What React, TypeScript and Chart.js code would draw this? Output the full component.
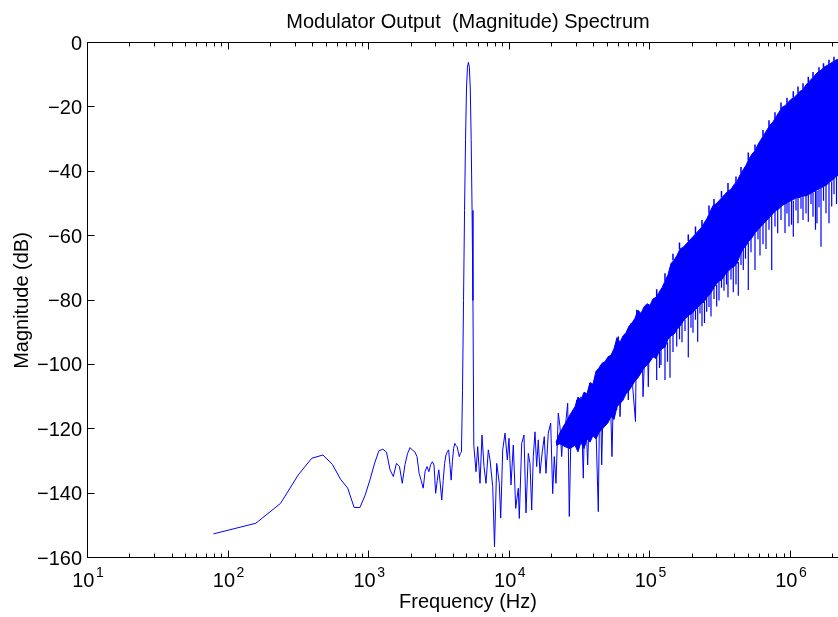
import React, { useEffect, useRef } from "react";
import { Chart, registerables } from "chart.js";

Chart.register(...registerables);

// ---------- data ----------
// FFT bins below and through the tone (Hz, dB)
const lowFreqs = [
  78.1, 156.3, 234.4, 312.5, 390.6, 468.8, 546.9, 625, 703.1, 781.3,
  859.4, 937.5, 1015.6, 1093.8, 1171.9, 1250, 1328.1, 1406.3, 1484.4, 1562.5,
  1640.6, 1718.8, 1796.9, 1875, 1953.1, 2031.3, 2109.4, 2187.5, 2265.6, 2343.8,
  2421.9, 2500, 2578.1, 2656.3, 2734.4, 2812.5, 2890.6, 2968.8, 3046.9, 3125,
  3203.1, 3281.3, 3359.4, 3437.5, 3515.6, 3593.8, 3671.9, 3750, 3828.1, 3906.3,
  3984.4, 4062.5, 4140.6, 4218.8, 4296.9, 4375, 4453.1, 4531.3, 4609.4, 4687.5,
  4765.6, 4843.8, 4921.9, 5000, 5078.1, 5156.3, 5234.4, 5312.5, 5390.6, 5468.8,
  5546.9,
];
const lowDb = [
  -152.5, -149.2, -143, -134.2, -129, -128, -130.9, -135.5, -138.3, -144.3,
  -144.3, -140.4, -135.5, -130.5, -126.7, -126.2, -127.1, -132.6, -134.7, -130.6,
  -131.5, -136.8, -131, -127.5, -125.7, -126.5, -127, -128.5, -133.7, -136,
  -138.3, -133, -131.6, -133.2, -131, -130.1, -131.1, -139.9, -136, -132.6,
  -137, -142, -136, -130.6, -128, -127, -126.4, -131, -135.8, -130,
  -126, -124.4, -125, -125.4, -127, -128.5, -127.5, -127, -108, -80,
  -52, -30, -14, -7.5, -6, -7.5, -14, -30, -52, -80,
  -125,
];

// noise floor above the tone (Hz, dB)
const highFreqs = [
  5750, 5912, 6139, 6344, 6555, 6774, 7034, 7232, 7560, 7786,
  8071, 8422, 8618, 8905, 9247, 9602, 9870, 10199, 10590, 11015,
  11494, 11684, 12152, 12618, 13038, 13538, 13920, 14313, 14692, 15107,
  15533, 15945, 16396, 17025, 17593, 18089, 18784, 19537, 20188, 20724,
  21310, 22128, 22753, 23395, 24016, 24978, 25810, 26495, 27243, 28288,
  29086, 29908, 31209, 32090, 33321, 34262, 35812, 37187, 38868, 40364,
  42607, 43810, 45046, 46016, 47548, 49372, 51017, 53322, 55098, 57589,
  59118, 60786, 63537, 65973, 67834, 69634, 72784, 74840, 78350, 79906,
  83384, 86727, 88595, 90796, 94125, 96625, 99353,
];
const highDb = [
  -133.2, -125.4, -136.8, -121.8, -131.6, -136.8, -126.4, -129.5, -137.8, -156.5,
  -130.6, -136.8, -147.6, -126.4, -121.2, -129.5, -122.8, -137.3, -124.9, -144.6,
  -138.3, -147.7, -124.4, -121.8, -146, -127.5, -130.6, -145.1, -128.5, -120.8,
  -131.6, -123.3, -133.7, -127, -122.3, -133.7, -121.2, -118.1, -140, -128.5,
  -136.8, -115, -119.2, -128.5, -119.2, -118.1, -111.9, -147.1, -121.2, -114,
  -123.3, -110.9, -119.2, -109.9, -135.2, -109.9, -131.1, -105.7, -114, -108.8,
  -145.6, -100.5, -131.1, -114, -99.5, -107.8, -97.9, -128.5, -100.5, -114,
  -91.2, -116.1, -95.4, -104.7, -90.2, -110.9, -87.1, -106.8, -117.6, -82.9,
  -102.6, -84, -109.9, -98.5, -81.4, -106.8, -83,
];

// dense shaped-noise band: upper and lower edge (Hz, dB)
const bandFreqs = [
  21310, 22753, 24978, 26804,
  29086, 30552, 32090, 33710, 35406, 37187, 39058, 41030, 43095, 45266,
  47548, 49937, 52452, 55098, 57875, 60786, 63845, 67055, 70433, 73982,
  77707, 81617, 85721, 90039, 94584, 99353, 104350, 109610, 115120, 120920,
  127000, 133400, 140120, 147170, 154590, 162370, 170550, 179140, 188160, 197630,
  207570, 218030, 229010, 240530, 252640, 265370, 278730, 292770, 307510, 323010,
  339270, 356360, 374310, 393150, 412950, 433750, 455600, 478530, 502630, 527950,
  554530, 582460, 611800, 642620, 674970, 708970, 744680, 782180, 821580, 862960,
  906430, 952070, 1000000, 1050400, 1103300, 1158900, 1217300, 1278600, 1342900, 1410600,
  1481600, 1556200, 1634600, 1716900, 1803400, 1894200, 1989600, 2089800, 2195000, 2305600,
  2421700, 2543600,
];
const bandUpperDb = [
  -124, -121, -118, -115.5,
  -113, -110, -111, -108.5, -109, -105.5, -106, -102, -101, -99.5,
  -99, -97.5, -97, -95, -91.5, -93, -91, -90, -88, -87,
  -85.5, -83, -84, -82, -81, -81.5, -79.5, -79, -77.5, -76,
  -74, -72, -68.5, -67.5, -66, -64, -63.5, -62.5, -61.5, -60.5,
  -59.5, -58.5, -57.5, -56, -54.5, -52.5, -50.5, -50, -49, -48,
  -47, -46, -45.5, -44, -43, -41, -39.5, -38, -36, -34.5,
  -33.5, -31.5, -30, -28.5, -27, -25.5, -24.5, -23, -21.5, -20,
  -19.5, -18.5, -17.5, -17, -16, -15, -14.5, -13, -12, -11,
  -10, -9, -8.5, -7.5, -7, -6.5, -5.8, -5.3, -5, -4.6,
  -4.3, -4,
];
const bandLowerDb = [
  -125, -124.5, -125.5, -126,
  -125, -127, -124, -126, -123, -124, -122, -123, -121, -120,
  -119, -118, -116, -117, -113, -112, -111, -109, -108, -106.5,
  -105, -104, -102.5, -101, -100, -99, -97.5, -98, -96, -95,
  -94.5, -92, -91, -90.5, -89, -88, -86.5, -85.5, -84.5, -84,
  -83, -82, -81, -80.5, -79, -78, -76.5, -75, -74, -73.5,
  -72, -71, -70, -69.5, -68.5, -66, -64, -63, -61.5, -60.5,
  -59, -58, -57, -56, -55, -54, -53, -52, -51.5, -50.5,
  -50, -49.5, -49, -48.5, -48, -48, -47.5, -47.5, -47, -46.5,
  -46, -45.5, -45, -44.5, -44, -43, -42.5, -41.5, -41, -40.5,
  -40, -40,
];

// narrow downward spikes below the band (Hz, from dB, to dB)
const spikeFreqs = [
  110870, 116070, 118960, 127000, 132320, 137850, 144780, 153830, 161060, 167790,
  176240, 186010, 194420, 200910, 209290, 216970, 225300, 232810, 242520, 251410,
  261070, 269760, 283380, 296130, 307510, 320380, 333770, 347720, 356360, 374310,
  388660, 406270, 421900, 440910, 457830, 474700, 496970, 519400, 554530, 582460,
  601880, 632150, 664030, 697450, 729020, 769450, 804330, 849030, 906430, 936640,
  967770, 1008300, 1038400, 1085400, 1121500, 1178100, 1217300, 1278600, 1327600, 1387600,
  1433900, 1493700, 1530900, 1581900, 1634600, 1702800, 1773900, 1863400, 1947700, 2022300,
  2107000,
];
const spikeTopDb = [
  -97, -96, -95, -94, -93, -91, -90.5, -89, -88, -86,
  -86, -84, -84, -83, -83, -82, -81, -81, -80.5, -79,
  -78, -77, -76, -75, -74, -73.5, -72, -71, -71, -70,
  -69, -69, -68, -65, -64, -63, -62, -60.5, -59, -58,
  -57, -56, -55, -54, -53, -52, -51.5, -50.5, -50, -49.5,
  -49.5, -49, -49, -48, -48, -48, -47.5, -47.5, -47, -46.5,
  -46.5, -46, -46, -45.5, -45, -44.5, -44, -43, -43, -42,
  -41.5,
];
const spikeBottomDb = [
  -104.7, -101, -100, -104.7, -99, -104, -96, -94.3, -92, -93,
  -89.5, -97.7, -88.5, -90, -86, -92.8, -84, -88, -87, -83.5,
  -82, -85, -79.5, -81.9, -80, -76, -77, -75, -79, -73.5,
  -77.4, -75, -78.5, -69, -70.5, -67, -76.7, -65, -70.5, -61,
  -66, -62.5, -64, -58, -70.5, -57, -59.1, -55, -59, -53,
  -57, -56.5, -60.2, -52, -56, -51.5, -55, -53, -55.5, -50,
  -54, -58, -56, -51, -63.3, -49, -52.9, -56, -50.8, -47,
  -50,
];

// small upward protrusions on the top edge of the band (Hz, from dB, to dB)
const capFreqs = [
  110870, 127000, 144780, 161060, 186010, 209290, 232810, 261070, 283380, 320380,
  356360, 406270, 440910, 496970, 554530, 632150, 697450, 769450, 849030, 936640,
  1038400, 1121500, 1217300, 1327600, 1433900, 1581900, 1702800, 1863400, 2022300,
];
const capBaseDb = [
  -79, -74, -67.5, -64, -61.5, -59.5, -57, -53, -50.5, -48,
  -46, -43.5, -40.5, -36.5, -33.5, -29, -26, -23.5, -20.5, -19,
  -17, -15.5, -14.5, -12.3, -10.7, -9, -7.7, -6.8, -5.6,
];
const capTipDb = [
  -76.5, -71.5, -65.5, -62, -59.5, -57, -55, -50.5, -48.5, -46,
  -43.5, -41.5, -38.5, -34, -31.5, -27, -24, -21.5, -18.5, -17,
  -15, -13.5, -12.5, -10.5, -9, -7.5, -6.3, -5.2, -4.3,
];

// axes
const xTickExponents = [1, 2, 3, 4, 5, 6];
const yTicks = [0, -20, -40, -60, -80, -100, -120, -140, -160];
const X_MIN = 10;
const X_MAX = 2543600;
const Y_MIN = -160;
const Y_MAX = 0;

const TITLE = "Modulator Output  (Magnitude) Spectrum";
const X_TITLE = "Frequency (Hz)";
const Y_TITLE = "Magnitude (dB)";

// ---------- layout ----------
const W = 870;
const H = 617;
const PLOT_LEFT = 88;
const PLOT_TOP = 43;
const PLOT_RIGHT = 848;
const PLOT_BOTTOM = 558;
const BLUE = "#0000ff";
const FONT = '"Liberation Sans", Arial, Helvetica, sans-serif';

const matlabAxes = {
  id: "matlabAxes",
  afterDatasetsDraw(chart: any) {
    const { ctx, chartArea, scales } = chart;
    const { left, right, top, bottom } = chartArea;
    const xs = scales.x;
    const ys = scales.y;
    ctx.save();
    ctx.strokeStyle = "#000";
    ctx.fillStyle = "#000";
    ctx.lineWidth = 1;

    const L = Math.round(left) - 0.5;
    const R = Math.round(right) - 0.5;
    const T = Math.round(top) - 0.5;
    const B = Math.round(bottom) - 0.5;
    ctx.beginPath();
    ctx.moveTo(L, T);
    ctx.lineTo(R, T);
    ctx.lineTo(R, B);
    ctx.lineTo(L, B);
    ctx.closePath();
    ctx.stroke();

    ctx.beginPath();
    for (let e = xTickExponents[0]; e <= xTickExponents[xTickExponents.length - 1]; e++) {
      for (let d = 1; d <= 9; d++) {
        const v = d * Math.pow(10, e);
        if (v > X_MAX) break;
        const px = Math.round(xs.getPixelForValue(v)) - 0.5;
        const len = d === 1 ? 7 : 4;
        ctx.moveTo(px, B);
        ctx.lineTo(px, B - len);
        ctx.moveTo(px, T);
        ctx.lineTo(px, T + len);
      }
    }
    for (const v of yTicks) {
      const py = Math.round(ys.getPixelForValue(v)) - 0.5;
      ctx.moveTo(L, py);
      ctx.lineTo(L + 7, py);
      ctx.moveTo(R, py);
      ctx.lineTo(R - 7, py);
    }
    ctx.stroke();

    ctx.font = `20px ${FONT}`;
    ctx.textAlign = "right";
    ctx.textBaseline = "middle";
    for (const v of yTicks) {
      const py = ys.getPixelForValue(v);
      const label = v < 0 ? "\u2212" + Math.abs(v) : String(v);
      ctx.fillText(label, left - 6, py + 1);
    }

    ctx.textBaseline = "alphabetic";
    ctx.textAlign = "left";
    for (const e of xTickExponents) {
      const px = xs.getPixelForValue(Math.pow(10, e));
      ctx.font = `20px ${FONT}`;
      const w1 = ctx.measureText("10").width;
      ctx.font = `14px ${FONT}`;
      const w2 = ctx.measureText(String(e)).width;
      const total = w1 + 1.5 + w2;
      const start = px - total / 2;
      ctx.font = `20px ${FONT}`;
      ctx.fillText("10", start, 587);
      ctx.font = `14px ${FONT}`;
      ctx.fillText(String(e), start + w1 + 1.5, 577);
    }

    ctx.font = `20px ${FONT}`;
    ctx.textAlign = "center";
    ctx.textBaseline = "alphabetic";
    const cx = (left + right) / 2;
    ctx.fillText(TITLE, cx, 27.5);
    ctx.fillText(X_TITLE, cx, 607.5);
    ctx.save();
    ctx.translate(28, (top + bottom) / 2);
    ctx.rotate(-Math.PI / 2);
    ctx.fillText(Y_TITLE, 0, 0);
    ctx.restore();

    ctx.restore();
  },
};

export default function App() {
  const ref = useRef<HTMLCanvasElement>(null);

  useEffect(() => {
    const canvas = ref.current;
    if (!canvas) return;

    const lineData = lowFreqs
      .map((f, i) => ({ x: f, y: lowDb[i] }))
      .concat(highFreqs.map((f, i) => ({ x: f, y: highDb[i] })));
    const upperData = bandFreqs.map((f, i) => ({ x: f, y: bandUpperDb[i] }));
    const lowerData = bandFreqs.map((f, i) => ({ x: f, y: bandLowerDb[i] }));
    const spikeData: { x: number; y: number | null }[] = [];
    spikeFreqs.forEach((f, i) => {
      spikeData.push({ x: f, y: spikeTopDb[i] });
      spikeData.push({ x: f, y: spikeBottomDb[i] });
      spikeData.push({ x: f, y: null });
    });
    const capData: { x: number; y: number | null }[] = [];
    capFreqs.forEach((f, i) => {
      capData.push({ x: f, y: capBaseDb[i] });
      capData.push({ x: f, y: capTipDb[i] });
      capData.push({ x: f, y: null });
    });

    const chart = new Chart(canvas, {
      type: "line",
      data: {
        datasets: [
          {
            data: lineData as any,
            borderColor: BLUE,
            borderWidth: 1,
            pointRadius: 0,
            fill: false,
            tension: 0,
          },
          {
            data: spikeData as any,
            borderColor: BLUE,
            borderWidth: 1.2,
            pointRadius: 0,
            fill: false,
            spanGaps: false,
            tension: 0,
          },
          {
            data: capData as any,
            borderColor: BLUE,
            borderWidth: 1.5,
            pointRadius: 0,
            fill: false,
            spanGaps: false,
            tension: 0,
          },
          {
            data: upperData as any,
            borderColor: BLUE,
            borderWidth: 1,
            pointRadius: 0,
            fill: false,
            tension: 0,
          },
          {
            data: lowerData as any,
            borderColor: BLUE,
            backgroundColor: BLUE,
            borderWidth: 1,
            pointRadius: 0,
            fill: "-1",
            tension: 0,
          },
        ],
      },
      options: {
        responsive: false,
        animation: false,
        devicePixelRatio: 1,
        events: [],
        layout: {
          padding: {
            left: PLOT_LEFT,
            top: PLOT_TOP,
            right: W - PLOT_RIGHT,
            bottom: H - PLOT_BOTTOM,
          },
        },
        plugins: {
          legend: { display: false },
          tooltip: { enabled: false },
          title: { display: false },
        },
        scales: {
          x: { type: "logarithmic", min: X_MIN, max: X_MAX, display: false },
          y: { type: "linear", min: Y_MIN, max: Y_MAX, display: false },
        },
      },
      plugins: [matlabAxes],
    });

    return () => chart.destroy();
  }, []);

  return (
    <div
      style={{
        position: "fixed",
        left: 0,
        top: 0,
        width: 838,
        height: 617,
        overflow: "hidden",
        background: "#fff",
      }}
    >
      <canvas ref={ref} width={W} height={H} style={{ display: "block", width: W, height: H }} />
    </div>
  );
}
